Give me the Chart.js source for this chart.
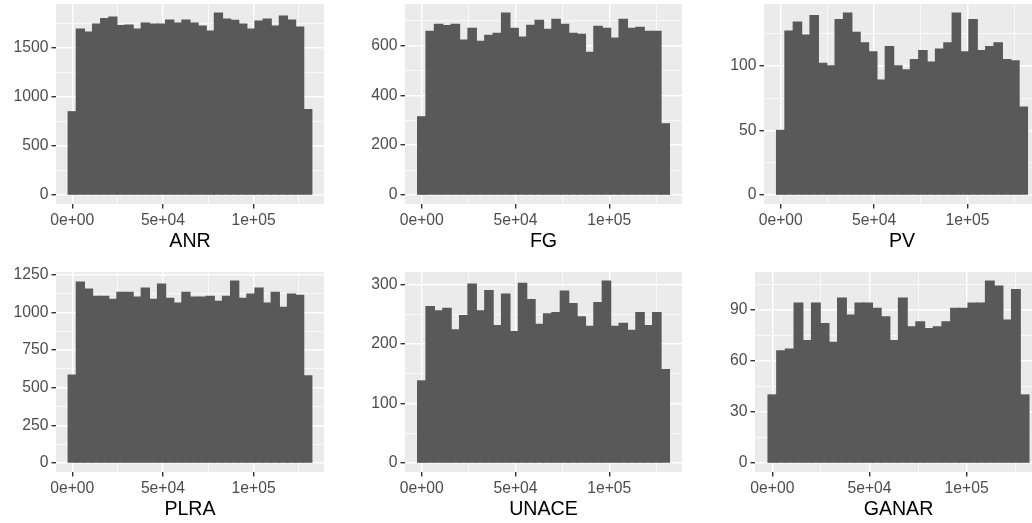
<!DOCTYPE html>
<html><head><meta charset="utf-8">
<script src="https://cdn.jsdelivr.net/npm/chart.js@4/dist/chart.umd.min.js"></script>
<style>
html,body{margin:0;padding:0;background:#fff;width:1032px;height:523px;overflow:hidden;position:relative}
canvas{position:absolute}
</style></head><body>
<script>
// ---- data ----
const binCenters = [0,4478,8955,13433,17910,22388,26866,31343,35821,40298,44776,49253,53731,58209,62686,67164,71641,76119,80597,85074,89552,94029,98507,102984,107462,111940,116417,120895,125372,129850];

const anrCounts   = [849,1692,1661,1743,1801,1815,1729,1733,1692,1753,1743,1743,1784,1753,1784,1753,1723,1671,1856,1795,1781,1743,1692,1774,1795,1723,1825,1784,1712,870];
const fgCounts    = [314,658,686,681,686,622,670,617,642,650,731,670,634,682,702,666,706,686,650,646,573,678,670,630,706,670,674,658,658,286];
const pvCounts    = [50,127,134,124,139,102,100,136,141,126,118,111,89,115,100,97,105,112,103,113,118,141,111,136,112,115,118,105,104,68];
const plraCounts  = [584,1201,1154,1107,1107,1087,1134,1134,1101,1161,1087,1188,1094,1061,1134,1101,1101,1107,1074,1107,1208,1094,1121,1161,1061,1134,1034,1121,1114,579];
const unaceCounts = [138,263,256,260,224,248,301,256,290,231,284,221,302,275,233,251,253,289,268,246,230,270,306,230,235,223,253,231,253,157];
const ganarCounts = [40,66,67,94,72,94,82,71,97,87,94,94,91,86,72,97,80,83,79,80,83,91,91,94,94,107,104,84,102,40];

const panelTitles = ['ANR','FG','PV','PLRA','UNACE','GANAR'];

const xMajorTicks = [0, 50000, 100000];
const xMinorTicks = [25000, 75000, 125000];
const xTickLabels = ['0e+00', '5e+04', '1e+05'];

const anrYMajor   = [0, 500, 1000, 1500];   const anrYMinor   = [250, 750, 1250, 1750];
const fgYMajor    = [0, 200, 400, 600];     const fgYMinor    = [100, 300, 500, 700];
const pvYMajor    = [0, 50, 100];           const pvYMinor    = [25, 75, 125];
const plraYMajor  = [0, 250, 500, 750, 1000, 1250]; const plraYMinor = [125, 375, 625, 875, 1125];
const unaceYMajor = [0, 100, 200, 300];     const unaceYMinor = [50, 150, 250];
const ganarYMajor = [0, 30, 60, 90];        const ganarYMinor = [15, 45, 75, 105];

// ---- layout / style ----
const X_MIN = -8955, X_MAX = 138805;
const Y_AXIS_W = 56, X_AXIS_H = 49, PANEL_H = 200, TOP_PAD = 14;
const FONT = '"Liberation Sans", Arial, Helvetica, sans-serif';
const TICK_FONT = 15.7, TITLE_FONT = 19.6;

const panels = [
  {counts: anrCounts,   yMajor: anrYMajor,   yMinor: anrYMinor,   title: panelTitles[0], left: 56,  right: 324,  top: 4},
  {counts: fgCounts,    yMajor: fgYMajor,    yMinor: fgYMinor,    title: panelTitles[1], left: 405, right: 682,  top: 4},
  {counts: pvCounts,    yMajor: pvYMajor,    yMinor: pvYMinor,    title: panelTitles[2], left: 764, right: 1040, top: 4},
  {counts: plraCounts,  yMajor: plraYMajor,  yMinor: plraYMinor,  title: panelTitles[3], left: 56,  right: 324,  top: 272},
  {counts: unaceCounts, yMajor: unaceYMajor, yMinor: unaceYMinor, title: panelTitles[4], left: 405, right: 682,  top: 272},
  {counts: ganarCounts, yMajor: ganarYMajor, yMinor: ganarYMinor, title: panelTitles[5], left: 755, right: 1042, top: 272},
];

const panelBg = {
  id: 'panelBg',
  beforeDraw(chart) {
    const {ctx, chartArea: a} = chart;
    ctx.save();
    ctx.fillStyle = '#EBEBEB';
    ctx.fillRect(a.left, a.top, a.right - a.left, a.bottom - a.top);
    ctx.restore();
  }
};

function gridOpts() {
  return {
    offset: false,
    color: '#FFFFFF',
    lineWidth: c => (c.tick && c.tick.major) ? 1.4 : 0.7,
    drawTicks: true,
    tickLength: 4.5,
    tickWidth: 1.4,
    tickColor: c => (c.tick && c.tick.major) ? '#333333' : 'rgba(0,0,0,0)'
  };
}

panels.forEach(p => {
  const cv = document.createElement('canvas');
  const cl = p.left - Y_AXIS_W;
  const w = p.right - cl;
  const h = TOP_PAD + PANEL_H + X_AXIS_H;
  cv.width = w; cv.height = h;
  cv.style.left = cl + 'px'; cv.style.top = (p.top - TOP_PAD) + 'px';
  cv.style.width = w + 'px'; cv.style.height = h + 'px';
  document.body.appendChild(cv);

  const maxC = Math.max(...p.counts);
  const yTicks = p.yMajor.map(v => ({value: v, major: true}))
    .concat(p.yMinor.map(v => ({value: v, major: false})))
    .sort((a, b) => a.value - b.value);
  const xTicks = xMajorTicks.map(v => ({value: v, major: true}))
    .concat(xMinorTicks.map(v => ({value: v, major: false})))
    .sort((a, b) => a.value - b.value);

  new Chart(cv, {
    type: 'bar',
    data: {
      datasets: [{
        data: binCenters.map((x, i) => ({x: x, y: p.counts[i]})),
        backgroundColor: '#595959',
        borderWidth: 0,
        inflateAmount: 0.6,
        categoryPercentage: 1,
        barPercentage: 1
      }]
    },
    options: {
      responsive: false,
      animation: false,
      devicePixelRatio: 1,
      layout: {padding: {top: TOP_PAD, left: 0, right: 0, bottom: 0}},
      plugins: {legend: {display: false}, tooltip: {enabled: false}},
      scales: {
        x: {
          type: 'linear',
          offset: false,
          min: X_MIN, max: X_MAX,
          border: {display: false},
          grid: gridOpts(),
          afterBuildTicks: s => { s.ticks = xTicks.map(t => ({...t})); },
          afterFit: s => { s.height = X_AXIS_H; s.paddingLeft = 0; s.paddingRight = 0; },
          ticks: {
            autoSkip: false, maxRotation: 0, padding: 3,
            color: '#4D4D4D', font: {family: FONT, size: TICK_FONT},
            callback: (v) => { const k = xMajorTicks.indexOf(v); return k >= 0 ? xTickLabels[k] : ''; }
          },
          title: {display: true, text: p.title, color: '#000000', padding: 0,
                  font: {family: FONT, size: TITLE_FONT}}
        },
        y: {
          type: 'linear',
          min: -0.05 * maxC, max: 1.05 * maxC,
          border: {display: false},
          grid: gridOpts(),
          afterBuildTicks: s => { s.ticks = yTicks.map(t => ({...t})); },
          afterFit: s => { s.width = Y_AXIS_W; s.paddingTop = 0; s.paddingBottom = 0; },
          ticks: {
            autoSkip: false, padding: 3,
            color: '#4D4D4D', font: {family: FONT, size: TICK_FONT},
            callback: (v) => p.yMajor.indexOf(v) >= 0 ? String(v) : ''
          }
        }
      }
    },
    plugins: [panelBg]
  });
});
</script>
</body></html>
